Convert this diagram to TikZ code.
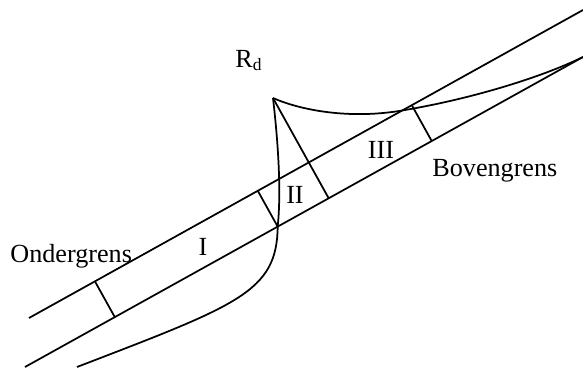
\documentclass[tikz,border=0pt]{standalone}
\usepackage{fontspec}
\setmainfont{Liberation Serif}
\usepackage{tikz}
\usetikzlibrary{calc}
\tikzset{
  bound/.style={draw=black,line width=0.8pt},
  tick/.style={draw=black,line width=0.8pt},
  crv/.style={draw=black,line width=0.8pt},
  lab/.style={inner sep=0pt,font=\fontsize{12}{14}\selectfont},
}

\begin{document}
\begin{tikzpicture}[x=0.4589pt,y=-0.4589pt]
\useasboundingbox (0,0) rectangle (583,369);
\coordinate (up1) at (29,318);
\coordinate (up2) at (583,10);
\coordinate (lo1) at (25,367);
\coordinate (lo2) at (583,57);
\coordinate (apex) at (273,98);
\coordinate (tail) at (77,367);
\coordinate (t1) at ($(up1)!0.119!(up2)$);
\coordinate (t2) at ($(up1)!0.413!(up2)$);
\coordinate (t4) at ($(up1)!0.691!(up2)$);
\coordinate (b1) at ($(lo1)!(t1)!(lo2)$);
\coordinate (b2) at ($(lo1)!(t2)!(lo2)$);
\coordinate (b3) at ($(lo1)!(apex)!(lo2)$);
\coordinate (b4) at ($(lo1)!(t4)!(lo2)$);
\coordinate (k1) at (405,110);
% the two boundaries
\draw[bound] (up1)--(up2);
\draw[bound] (lo1)--(lo2);
% cross lines
\draw[tick] (t1)--(b1);
\draw[tick] (t2)--(b2);
\draw[tick] (apex)--(b3);
\draw[tick] (t4)--(b4);
% curves from R_d
\draw[crv] (apex) .. controls (300,110) and (350,120) .. (k1)
  .. controls (470,99) and (540,78) .. (lo2);
\draw[crv] (apex) .. controls (279,150) and (281,195) .. (b2)
  .. controls (277,292) and (238,305) .. (tail);
\node[lab,anchor=base west] (rd) at (235,67) {R\textsubscript{d}};
\node[lab,anchor=base] (zI) at (203,255) {I};
\node[lab,anchor=base] (zII) at (295,203) {II};
\node[lab,anchor=base] (zIII) at (381,158) {III};
\node[lab,anchor=base west] (onder) at (10,262) {Ondergrens};
\node[lab,anchor=base west] (boven) at (432,176) {Bovengrens};
\end{tikzpicture}
\end{document}
